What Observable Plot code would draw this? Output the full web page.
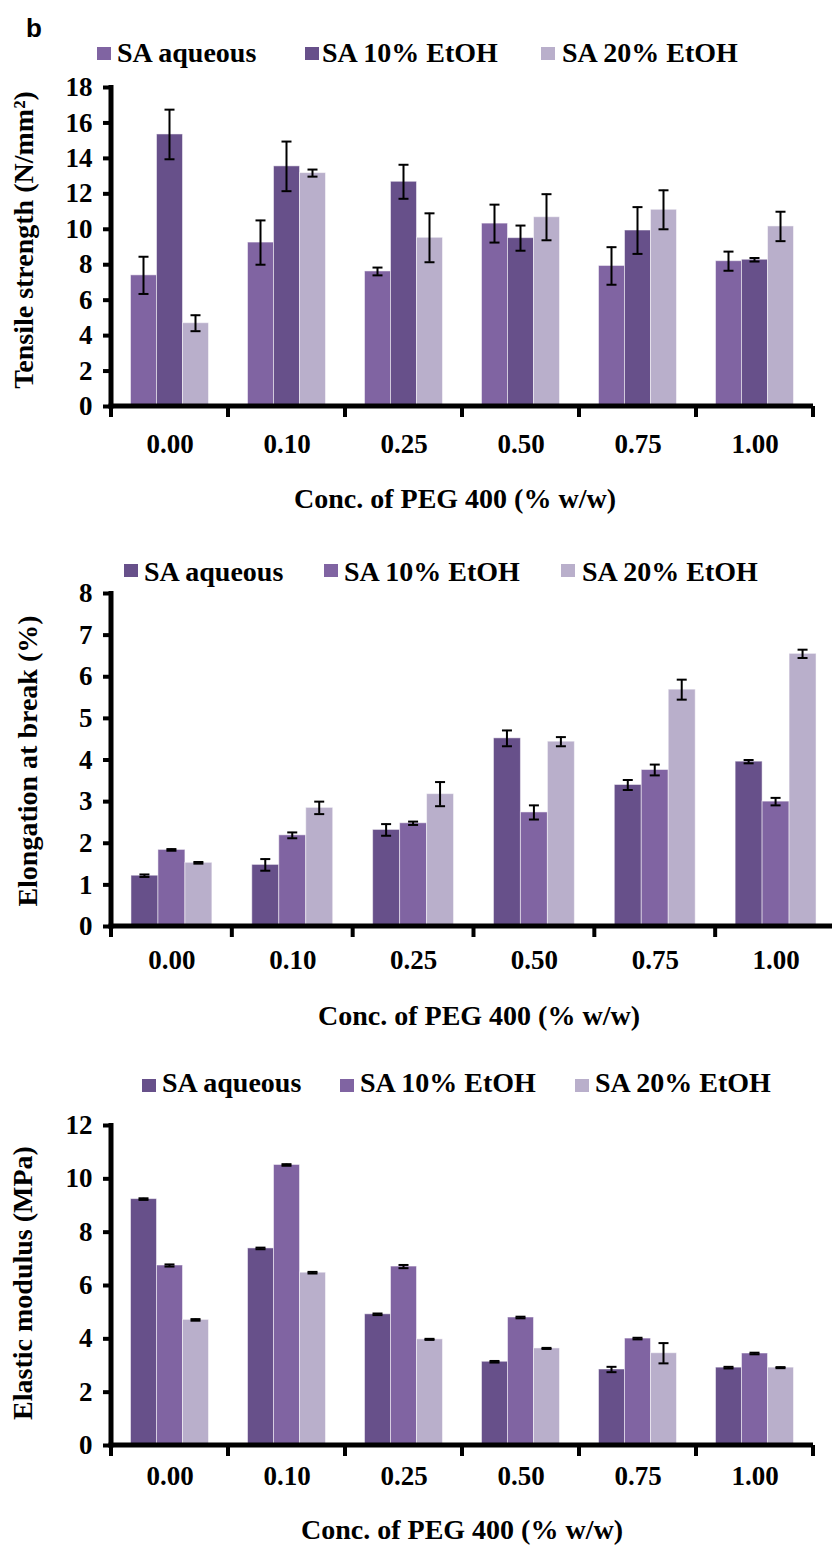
<!DOCTYPE html>
<html>
<head>
<meta charset="utf-8">
<script src="https://cdn.jsdelivr.net/npm/d3@7"></script>
<script src="https://cdn.jsdelivr.net/npm/@observablehq/plot@0.6"></script>
<style>
  body { margin: 0; background: #fff; }
  #page { position: relative; width: 832px; height: 1545px; overflow: hidden; background: #fff;
          font-family: "Liberation Serif", "Times New Roman", serif; font-weight: bold; color: #000; }
  #page > svg { position: absolute; left: 0; z-index: 1; }
  .t { position: absolute; white-space: nowrap; z-index: 2; }
  .sw { position: absolute; width: 14px; height: 13px; z-index: 2; }
</style>
</head>
<body>
<div id="page"></div>
<script>
// ---------- data ----------
const concentrations = ["0.00", "0.10", "0.25", "0.50", "0.75", "1.00"];
const seriesNames = ["SA aqueous", "SA 10% EtOH", "SA 20% EtOH"];

// Tensile strength (N/mm²)
const tensileAqueous     = [7.40, 9.25, 7.62, 10.32, 7.93, 8.20];
const tensileAqueousSD   = [1.05, 1.25, 0.22, 1.07, 1.06, 0.54];
const tensileEtOH10      = [15.35, 13.55, 12.68, 9.50, 9.93, 8.28];
const tensileEtOH10SD    = [1.40, 1.40, 0.96, 0.71, 1.32, 0.10];
const tensileEtOH20      = [4.70, 13.17, 9.52, 10.68, 11.10, 10.16];
const tensileEtOH20SD    = [0.45, 0.20, 1.38, 1.30, 1.10, 0.83];
const tensileTicks = [0, 2, 4, 6, 8, 10, 12, 14, 16, 18];

// Elongation at break (%)
const elongAqueous   = [1.22, 1.48, 2.32, 4.52, 3.40, 3.96];
const elongAqueousSD = [0.03, 0.14, 0.14, 0.19, 0.12, 0.04];
const elongEtOH10    = [1.84, 2.19, 2.48, 2.74, 3.76, 3.00];
const elongEtOH10SD  = [0.02, 0.07, 0.04, 0.17, 0.13, 0.09];
const elongEtOH20    = [1.53, 2.85, 3.18, 4.44, 5.69, 6.55];
const elongEtOH20SD  = [0.02, 0.15, 0.29, 0.11, 0.24, 0.10];
const elongTicks = [0, 1, 2, 3, 4, 5, 6, 7, 8];

// Elastic modulus (MPa)
const modAqueous   = [9.24, 7.39, 4.92, 3.14, 2.85, 2.92];
const modAqueousSD = [0.03, 0.03, 0.03, 0.03, 0.10, 0.03];
const modEtOH10    = [6.75, 10.52, 6.71, 4.80, 4.01, 3.45];
const modEtOH10SD  = [0.04, 0.03, 0.06, 0.03, 0.03, 0.03];
const modEtOH20    = [4.71, 6.48, 3.98, 3.64, 3.46, 2.92];
const modEtOH20SD  = [0.03, 0.03, 0.02, 0.02, 0.38, 0.02];
const modTicks = [0, 2, 4, 6, 8, 10, 12];

const xTitle = "Conc. of PEG 400 (% w/w)";

// ---------- styles ----------
const mid = "#8064A2", dark = "#67508A", light = "#B9AFCB";
const SERIF = "'Liberation Serif', 'Times New Roman', serif";
const page = document.getElementById("page");

function tidy(seriesMeans, seriesSDs) {
  const out = [];
  seriesNames.forEach((s, k) => {
    concentrations.forEach((c, i) => out.push({cat: c, series: s, v: seriesMeans[k][i], e: seriesSDs[k][i]}));
  });
  return out;
}

function addText(txt, left, baseline, fs, extra = {}) {
  const d = document.createElement("div");
  d.className = "t";
  d.textContent = txt;
  d.style.fontSize = fs + "px";
  d.style.lineHeight = fs + "px";
  d.style.left = left + "px";
  d.style.top = (baseline - 0.8375 * fs) + "px";
  Object.assign(d.style, extra);
  page.appendChild(d);
  return d;
}

function addLegend(colors, swX, swTop, txtX, baseline) {
  seriesNames.forEach((s, k) => {
    const sw = document.createElement("div");
    sw.className = "sw";
    sw.style.left = swX[k] + "px";
    sw.style.top = swTop + "px";
    sw.style.background = colors[k];
    page.appendChild(sw);
    addText(s, txtX[k], baseline, 28);
  });
}

function addYTitle(txt, cx, cy) {
  const d = document.createElement("div");
  d.className = "t";
  d.textContent = txt;
  d.style.fontSize = "28px";
  d.style.lineHeight = "28px";
  d.style.left = cx + "px";
  d.style.top = cy + "px";
  d.style.transform = "translate(-50%, -50%) rotate(-90deg)";
  page.appendChild(d);
}

function addXTitle(txt, cx, baseline) {
  const d = addText(txt, cx, baseline, 28);
  d.style.transform = "translateX(-50%)";
}

function panel(cfg) {
  const data = tidy(cfg.means, cfg.sds);
  const n = concentrations.length;
  const bw = (cfg.width - cfg.ml - cfg.mr) / n / (seriesNames.length + 2 * cfg.pad);
  const whisk = (bw - 2) / 2, cap = (bw - 10) / 2;
  const plot = Plot.plot({
    width: cfg.width, height: cfg.height,
    marginTop: cfg.mt, marginBottom: cfg.mb, marginLeft: cfg.ml, marginRight: cfg.mr,
    style: {fontFamily: SERIF, fontSize: "27px", fontWeight: "bold", color: "black",
            background: "transparent", overflow: "visible", maxWidth: "none"},
    fx: {domain: concentrations, padding: 0, label: null, round: false},
    x: {domain: seriesNames, paddingInner: 0, paddingOuter: cfg.pad, axis: null, round: false},
    y: {domain: [0, cfg.yMax], label: null},
    color: {domain: seriesNames, range: cfg.colors},
    marks: [
      Plot.barY(data, {fx: "cat", x: "series", y: "v", fill: "series",
                       stroke: "#ffffff", strokeOpacity: 0.5, strokeWidth: 1}),
      Plot.barY(data, {fx: "cat", x: "series", y1: d => d.v - d.e, y2: d => d.v + d.e,
                       fill: "black", insetLeft: whisk, insetRight: whisk}),
      Plot.tickY(data, {fx: "cat", x: "series", y: d => d.v + d.e, stroke: "black",
                        strokeWidth: 2, insetLeft: cap, insetRight: cap}),
      Plot.tickY(data, {fx: "cat", x: "series", y: d => d.v - d.e, stroke: "black",
                        strokeWidth: 2, insetLeft: cap, insetRight: cap}),
      Plot.axisY({ticks: cfg.ticks, tickSize: 8, tickPadding: 11, strokeWidth: 4,
                  label: null, tickFormat: d => String(d)}),
      Plot.axisFx({anchor: "bottom", tickSize: 0, tickPadding: cfg.fxPad, label: null})
    ]
  });

  // Excel-style axis lines and category boundary ticks, placed with Plot's scales
  const fxS = plot.scale("fx"), yS = plot.scale("y");
  const fxApply = fxS.apply ? fxS.apply : d3.scaleBand().domain(fxS.domain).range(fxS.range).padding(0);
  const band = fxS.bandwidth != null ? fxS.bandwidth : (fxS.range[1] - fxS.range[0]) / n;
  const yApply = yS.apply ? yS.apply : d3.scaleLinear().domain(yS.domain).range(yS.range);
  const y0 = yApply(0), yT = yApply(cfg.yMax);
  const starts = concentrations.map(c => fxApply(c));
  const left = starts[0], right = starts[n - 1] + band;
  const g = d3.select(plot).append("g").attr("stroke", "black").attr("fill", "none");
  g.append("line").attr("x1", left).attr("x2", left).attr("y1", yT - 2).attr("y2", y0 + 2.5).attr("stroke-width", 5);
  g.append("line").attr("x1", left - 2.5).attr("x2", right).attr("y1", y0).attr("y2", y0).attr("stroke-width", 5);
  g.selectAll(null).data([...starts, right]).join("line")
    .attr("x1", d => d).attr("x2", d => d).attr("y1", y0).attr("y2", y0 + 11).attr("stroke-width", 4);

  plot.style.top = cfg.top + "px";
  page.appendChild(plot);
}

// ---------- panel b (top): tensile strength ----------
panel({
  means: [tensileAqueous, tensileEtOH10, tensileEtOH20],
  sds: [tensileAqueousSD, tensileEtOH10SD, tensileEtOH20SD],
  colors: [mid, dark, light], ticks: tensileTicks, yMax: 18,
  top: 70, width: 832, height: 450, mt: 17, mb: 114, ml: 111, mr: 19, pad: 0.75, fxPad: 27
});
// ---------- elongation ----------
panel({
  means: [elongAqueous, elongEtOH10, elongEtOH20],
  sds: [elongAqueousSD, elongEtOH10SD, elongEtOH20SD],
  colors: [dark, mid, light], ticks: elongTicks, yMax: 8,
  top: 580, width: 836, height: 460, mt: 13, mb: 114, ml: 111, mr: 0, pad: 0.74, fxPad: 23
});
// ---------- elastic modulus ----------
panel({
  means: [modAqueous, modEtOH10, modEtOH20],
  sds: [modAqueousSD, modEtOH10SD, modEtOH20SD],
  colors: [dark, mid, light], ticks: modTicks, yMax: 12,
  top: 1110, width: 832, height: 435, mt: 15, mb: 100, ml: 111, mr: 19, pad: 0.75, fxPad: 20
});

// ---------- texts ----------
addText("b", 26, 37, 26, {fontFamily: "'Liberation Sans', Arial, sans-serif"});

addLegend([mid, dark, light], [97, 305, 541], 47, [117, 322, 562], 62);
addLegend([dark, mid, light], [124, 324, 561], 564, [144, 344, 582], 581);
addLegend([dark, mid, light], [142, 340, 575], 1079, [162, 360, 595], 1092);

addYTitle("Tensile strength (N/mm²)", 24, 240);
addYTitle("Elongation at break (%)", 28, 761);
addYTitle("Elastic modulus (MPa)", 23, 1283);

addXTitle(xTitle, 455, 508);
addXTitle(xTitle, 479, 1025);
addXTitle(xTitle, 462, 1539);
</script>
</body>
</html>
